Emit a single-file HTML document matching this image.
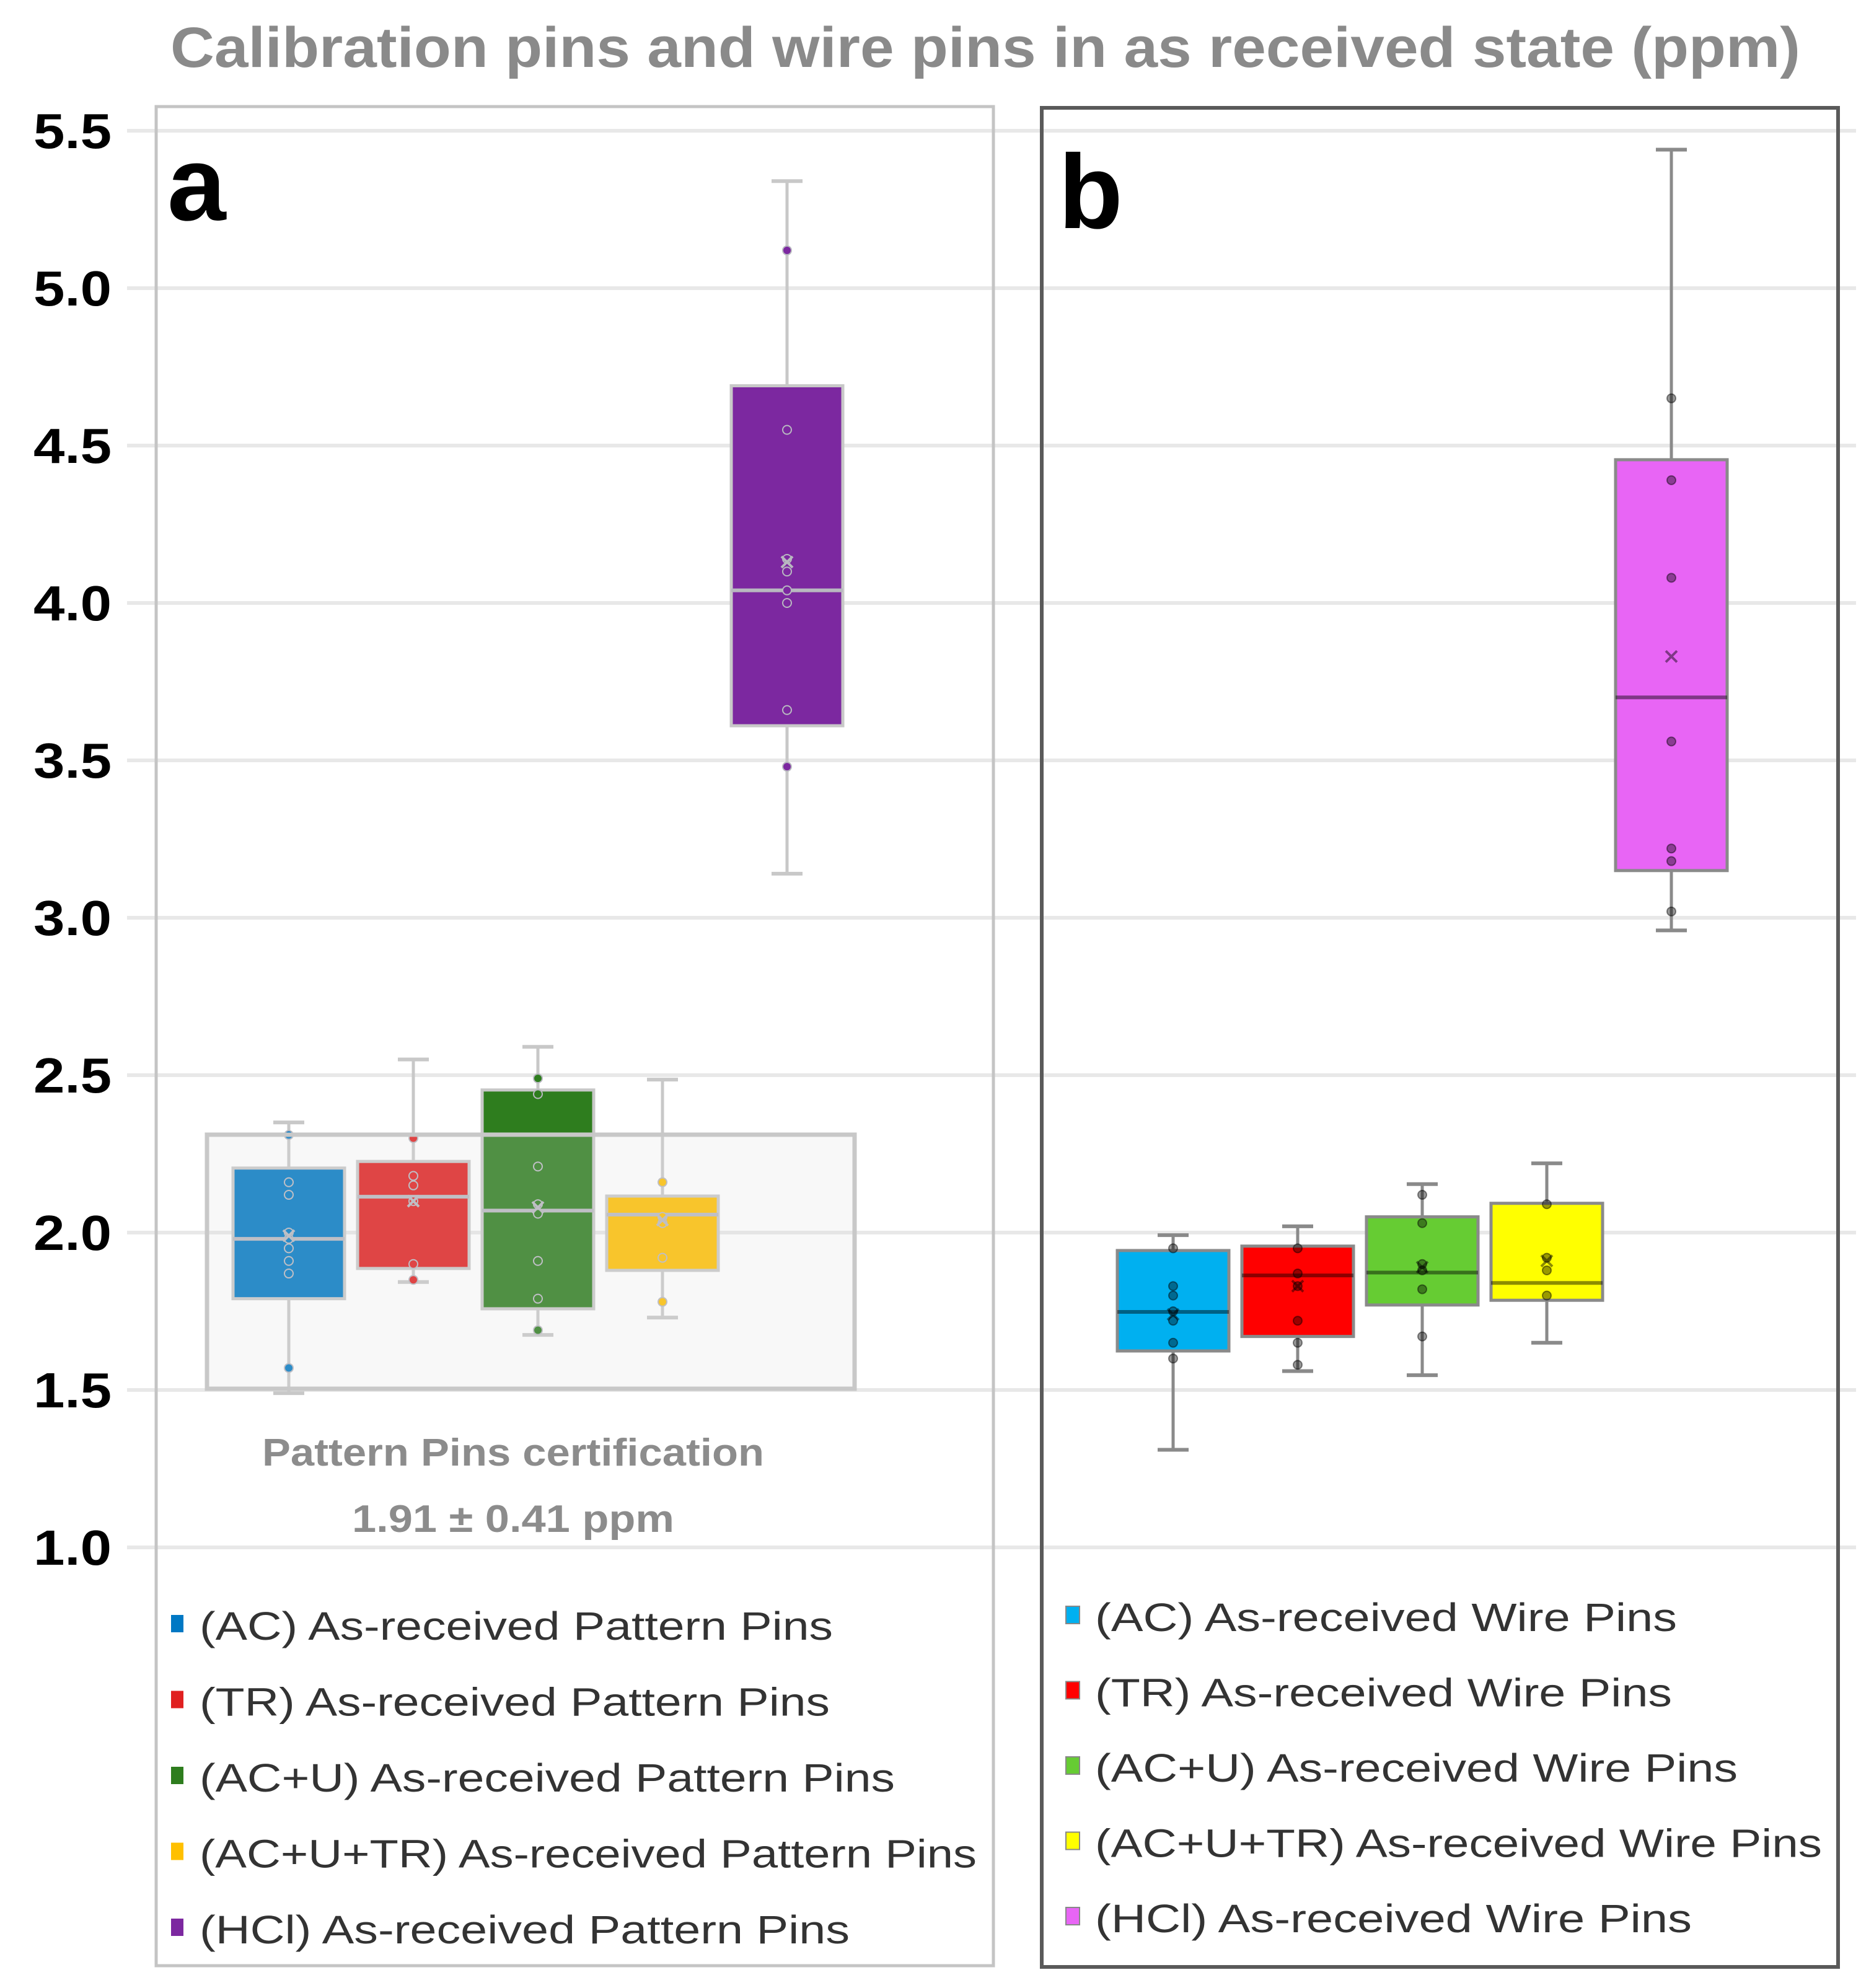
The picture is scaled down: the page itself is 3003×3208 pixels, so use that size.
<!DOCTYPE html>
<html><head><meta charset="utf-8"><style>
html,body{margin:0;padding:0;background:#fff;}
svg{display:block;}
text{font-family:"Liberation Sans",sans-serif;}
</style></head><body>
<svg id="chart" width="3003" height="3208" viewBox="0 0 3003 3208" xmlns="http://www.w3.org/2000/svg">
<text x="1590" y="108" text-anchor="middle" font-size="92" font-weight="bold" fill="#8a8a8a" textLength="2630" lengthAdjust="spacingAndGlyphs">Calibration pins and wire pins in as received state (ppm)</text>
<g id="grid"></g>
<rect x="252" y="172" width="1351" height="3000" fill="none" stroke="#c4c4c4" stroke-width="5"/>
<rect x="1681" y="174" width="1285" height="3000" fill="none" stroke="#5a5a5a" stroke-width="6"/>
<text x="270" y="355" font-size="170" font-weight="bold" fill="#000">a</text>
<text x="1708" y="368" font-size="170" font-weight="bold" fill="#000">b</text>
<g id="yticks"></g>
<g id="boxesA"></g>
<rect x="334" y="1831" width="1045" height="410" fill="rgba(222,222,222,0.2)" stroke="#c8c8c8" stroke-width="7"/>
<g id="boxesB"></g>
<text x="828" y="2365" text-anchor="middle" font-size="62" font-weight="bold" fill="#8c8c8c" textLength="810" lengthAdjust="spacingAndGlyphs">Pattern Pins certification</text>
<text x="828" y="2472" text-anchor="middle" font-size="62" font-weight="bold" fill="#8c8c8c" textLength="520" lengthAdjust="spacingAndGlyphs">1.91 ± 0.41 ppm</text>
<g id="legends"></g>
</svg>
<script>
const yTicks = [1.0, 1.5, 2.0, 2.5, 3.0, 3.5, 4.0, 4.5, 5.0, 5.5];
const categoriesA = ["(AC) As-received Pattern Pins","(TR) As-received Pattern Pins","(AC+U) As-received Pattern Pins","(AC+U+TR) As-received Pattern Pins","(HCl) As-received Pattern Pins"];
const categoriesB = ["(AC) As-received Wire Pins","(TR) As-received Wire Pins","(AC+U) As-received Wire Pins","(AC+U+TR) As-received Wire Pins","(HCl) As-received Wire Pins"];
const colorsA = ["#0078c4","#e02020","#2e7d1e","#ffc000","#7c28a0"];
const colorsB = ["#00b0f0","#ff0000","#66cc33","#ffff00","#e865f5"];
// [min, q1, median, q3, max, mean]
const statsA = [
  [1.49,1.79,1.98,2.205,2.35,1.99],
  [1.843,1.886,2.114,2.226,2.55,2.10],
  [1.675,1.758,2.07,2.453,2.59,2.08],
  [1.73,1.88,2.057,2.116,2.486,2.04],
  [3.14,3.61,4.04,4.69,5.34,4.13]
];
const pointsA = [
  [2.31,2.16,2.12,2.0,1.98,1.95,1.91,1.87,1.57],
  [2.30,2.18,2.15,2.1,1.9,1.85],
  [2.49,2.44,2.21,2.09,2.06,1.91,1.79,1.69],
  [2.16,2.05,2.03,1.92,1.78],
  [5.12,4.55,4.14,4.10,4.04,4.0,3.66,3.48]
];
const statsB = [
  [1.31,1.624,1.748,1.943,1.992,1.74],
  [1.56,1.67,1.864,1.957,2.02,1.83],
  [1.547,1.77,1.873,2.05,2.154,1.89],
  [1.65,1.785,1.84,2.093,2.22,1.91],
  [2.96,3.15,3.70,4.455,5.44,3.83]
];
const pointsB = [
  [1.95,1.83,1.8,1.75,1.72,1.65,1.6],
  [1.95,1.87,1.83,1.72,1.65,1.58],
  [2.12,2.03,1.9,1.88,1.82,1.67],
  [2.09,1.92,1.88,1.8],
  [4.65,4.39,4.08,3.56,3.22,3.18,3.02]
];
const NS="http://www.w3.org/2000/svg";
function yS(v){return 2497-(v-1)*508;}
function xA(i){return 466+i*201;}
function xB(i){return 1893+i*201;}
function mk(tag,parent,attrs){const e=document.createElementNS(NS,tag);for(const k in attrs)e.setAttribute(k,attrs[k]);parent.appendChild(e);return e;}
const grid=document.getElementById('grid'), yt=document.getElementById('yticks');
yTicks.forEach(v=>{
  const l=mk('line',grid,{x1:205,x2:2995,y1:yS(v),y2:yS(v),stroke:'#e8e8e8','stroke-width':6});
  
  
  const t=mk('text',yt,{x:180,y:yS(v)+28,'text-anchor':'end','font-size':80,'font-weight':'bold',fill:'#000',textLength:126,lengthAdjust:'spacingAndGlyphs'});
  t.textContent=v.toFixed(1);
  
  
});
function drawBox(g,cx,s,pts,fill,stroke,ptFill,med,name){
  const w=180;
  const grp=mk('g',g,{});
  
  
  mk('line',grp,{x1:cx,x2:cx,y1:yS(s[4]),y2:yS(s[0]),stroke:stroke,'stroke-width':5});
  mk('line',grp,{x1:cx-25,x2:cx+25,y1:yS(s[4]),y2:yS(s[4]),stroke:stroke,'stroke-width':6});
  mk('line',grp,{x1:cx-25,x2:cx+25,y1:yS(s[0]),y2:yS(s[0]),stroke:stroke,'stroke-width':6});
  mk('rect',grp,{x:cx-w/2,y:yS(s[3]),width:w,height:yS(s[1])-yS(s[3]),fill:fill,stroke:stroke,'stroke-width':5});
  mk('line',grp,{x1:cx-w/2,x2:cx+w/2,y1:yS(s[2]),y2:yS(s[2]),stroke:med,'stroke-width':6});
  pts.forEach(p=>{mk('circle',grp,{cx:cx,cy:yS(p),r:7,fill:ptFill,stroke:med,'stroke-width':2});});
  const m=yS(s[5]);
  mk('path',grp,{d:`M${cx-9} ${m-9}L${cx+9} ${m+9}M${cx+9} ${m-9}L${cx-9} ${m+9}`,stroke:med,'stroke-width':4});
}
const gA=document.getElementById('boxesA'), gB=document.getElementById('boxesB');
statsA.forEach((s,i)=>drawBox(gA,xA(i),s,pointsA[i],colorsA[i],'#c8c8c8',colorsA[i],'#b8b8c0','box-a-'+i));
statsB.forEach((s,i)=>drawBox(gB,xB(i),s,pointsB[i],colorsB[i],'#8a8a8a','rgba(0,0,0,0.4)','rgba(0,0,0,0.45)','box-b-'+i));
const lg=document.getElementById('legends');
const widA=[1022,1017,1122,1254,1049], widB=[939,931,1037,1173,963];
categoriesA.forEach((c,i)=>{
  const y=2646+i*122.5;
  const r=mk('rect',lg,{x:276,y:y-40,width:20,height:28,fill:colorsA[i]});
  
  
  const t=mk('text',lg,{x:322,y:y,'font-size':64,fill:'#333',textLength:widA[i],lengthAdjust:'spacingAndGlyphs'});
  t.textContent=c;
  
  
});
categoriesB.forEach((c,i)=>{
  const y=2632+i*121.5;
  const r=mk('rect',lg,{x:1720,y:y-40,width:22,height:28,fill:colorsB[i],stroke:'#888','stroke-width':2});
  
  
  const t=mk('text',lg,{x:1767,y:y,'font-size':64,fill:'#333',textLength:widB[i],lengthAdjust:'spacingAndGlyphs'});
  t.textContent=c;
  
  
});
</script>
</body></html>
